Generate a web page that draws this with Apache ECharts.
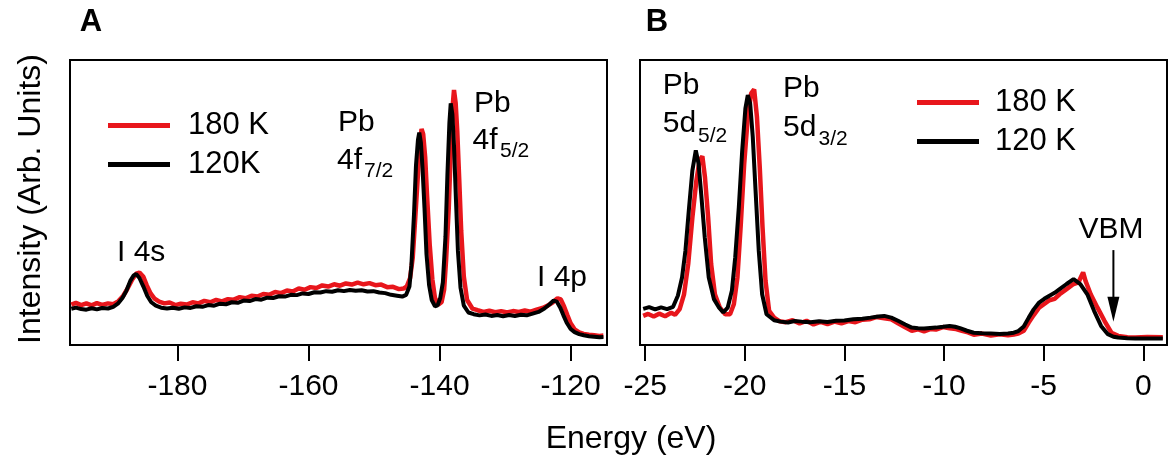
<!DOCTYPE html>
<html><head><meta charset="utf-8">
<script src="https://cdn.jsdelivr.net/npm/echarts@6/dist/echarts.min.js"></script>
<style>html,body{margin:0;padding:0;background:#fff}#c{width:1169px;height:461px}</style>
</head><body><div id="c"></div>
<script>
// ---- data ----
const ticksA = [-180, -160, -140, -120];
const ticksB = [-25, -20, -15, -10, -5, 0];
const rangeA = [-196.4, -114.45];
const rangeB = [-25.26, 1.19];
const legendA = ['180 K', '120K'];
const legendB = ['180 K', '120 K'];
const vbmEnergy = -1.5;
const vbmArrow = [33.3, 8.2];

const a180 = [[-196.2,14.2],[-195.5,14.8],[-194.7,14.0],[-193.9,14.6],[-193.1,13.9],[-192.3,14.7],[-191.5,14.1],[-190.6,14.6],[-189.8,14.3],[-189.0,15.4],[-188.3,17.2],[-187.6,19.9],[-186.9,23.0],[-186.3,25.0],[-185.8,25.4],[-185.2,23.9],[-184.7,21.0],[-184.1,18.1],[-183.5,16.3],[-182.8,15.2],[-182.0,14.6],[-181.2,14.9],[-180.3,14.0],[-179.5,14.5],[-178.6,14.2],[-177.7,15.0],[-176.8,14.6],[-175.9,15.5],[-175.0,15.0],[-174.1,15.8],[-173.2,15.3],[-172.3,16.1],[-171.4,15.9],[-170.5,16.8],[-169.6,16.4],[-168.7,17.3],[-167.8,17.0],[-166.9,17.9],[-166.0,17.6],[-165.1,18.6],[-164.2,18.2],[-163.3,19.1],[-162.4,18.8],[-161.5,19.8],[-160.6,19.4],[-159.7,20.3],[-158.8,20.0],[-157.9,20.9],[-157.0,20.5],[-156.1,21.3],[-155.2,20.8],[-154.3,21.6],[-153.4,21.2],[-152.5,21.9],[-151.6,21.3],[-150.7,21.7],[-149.8,21.0],[-148.9,21.2],[-148.0,20.3],[-147.1,20.4],[-146.2,19.6],[-145.5,19.8],[-145.0,20.6],[-144.5,23.5],[-144.1,30.5],[-143.7,45.0],[-143.3,60.0],[-143.0,70.5],[-142.75,75.8],[-142.5,74.0],[-142.2,66.0],[-141.9,52.0],[-141.5,35.0],[-141.1,23.0],[-140.7,16.5],[-140.2,14.2],[-139.7,15.0],[-139.3,19.5],[-139.0,30.0],[-138.6,48.0],[-138.3,68.0],[-138.0,84.0],[-137.8,89.5],[-137.55,85.0],[-137.3,75.0],[-137.0,58.0],[-136.7,40.0],[-136.3,24.0],[-135.8,15.8],[-135.0,12.8],[-134.2,12.2],[-133.3,11.6],[-132.4,12.0],[-131.5,11.5],[-130.6,11.9],[-129.7,11.4],[-128.8,11.9],[-127.9,11.6],[-127.0,12.1],[-126.1,11.7],[-125.2,12.4],[-124.3,13.0],[-123.5,13.8],[-122.7,15.0],[-122.0,16.4],[-121.5,16.0],[-121.0,13.5],[-120.5,10.5],[-120.0,7.6],[-119.4,5.5],[-118.7,4.4],[-118.0,3.9],[-117.2,3.6],[-116.4,3.4],[-115.6,3.2],[-115.0,3.3]];

const a120 = [[-196.2,12.7],[-195.5,13.1],[-194.7,12.6],[-193.9,12.4],[-193.1,12.9],[-192.3,12.5],[-191.5,13.0],[-190.6,12.8],[-189.8,13.4],[-189.1,14.5],[-188.4,16.5],[-187.8,19.0],[-187.2,22.5],[-186.7,24.4],[-186.3,24.9],[-185.8,23.5],[-185.2,20.5],[-184.6,17.2],[-184.0,15.0],[-183.3,13.8],[-182.5,13.1],[-181.6,12.8],[-180.7,13.1],[-179.8,12.7],[-178.9,13.2],[-178.0,13.0],[-177.1,13.6],[-176.2,13.4],[-175.3,14.0],[-174.4,13.8],[-173.5,14.5],[-172.6,14.3],[-171.7,15.0],[-170.8,14.8],[-169.9,15.6],[-169.0,15.4],[-168.1,16.1],[-167.2,15.9],[-166.3,16.6],[-165.4,16.5],[-164.5,17.1],[-163.6,17.0],[-162.7,17.6],[-161.8,17.5],[-160.9,18.1],[-160.0,17.9],[-159.1,18.5],[-158.2,18.4],[-157.3,18.9],[-156.4,18.7],[-155.5,19.2],[-154.6,18.9],[-153.7,19.3],[-152.8,19.0],[-151.9,19.2],[-151.0,18.8],[-150.1,18.9],[-149.2,18.4],[-148.3,18.2],[-147.4,17.6],[-146.5,17.3],[-145.7,17.0],[-145.1,17.6],[-144.6,20.5],[-144.3,28.0],[-143.9,46.0],[-143.6,63.0],[-143.3,72.0],[-143.1,74.5],[-142.85,71.0],[-142.6,62.0],[-142.3,48.0],[-142.0,32.0],[-141.6,21.0],[-141.2,15.8],[-140.7,13.6],[-140.3,13.9],[-139.9,16.5],[-139.5,22.0],[-139.1,38.0],[-138.8,60.0],[-138.5,78.0],[-138.3,84.8],[-138.05,81.0],[-137.8,70.0],[-137.5,51.0],[-137.2,33.0],[-136.8,20.0],[-136.3,13.8],[-135.6,11.4],[-134.8,10.8],[-133.9,10.4],[-133.0,10.7],[-132.1,10.2],[-131.2,10.5],[-130.3,10.1],[-129.4,10.5],[-128.5,10.2],[-127.6,10.6],[-126.7,10.4],[-125.8,11.0],[-124.9,11.6],[-124.0,12.8],[-123.2,14.3],[-122.6,15.6],[-122.1,15.2],[-121.6,13.2],[-121.1,10.4],[-120.6,7.8],[-120.0,5.6],[-119.4,4.5],[-118.7,3.8],[-118.0,3.4],[-117.2,3.1],[-116.4,2.9],[-115.6,2.7],[-115.0,2.8]];

const b180 = [[-25.1,10.2],[-24.85,10.9],[-24.57,10.0],[-24.3,11.0],[-24.0,10.1],[-23.7,11.3],[-23.5,10.6],[-23.27,12.6],[-23.05,17.8],[-22.84,28.4],[-22.63,44.8],[-22.43,57.7],[-22.27,64.8],[-22.13,66.2],[-22.0,58.9],[-21.84,44.8],[-21.69,28.4],[-21.5,17.8],[-21.25,13.1],[-20.98,10.8],[-20.74,10.8],[-20.55,14.3],[-20.37,23.7],[-20.2,42.5],[-20.03,63.6],[-19.85,80.0],[-19.68,88.3],[-19.53,89.7],[-19.39,80.0],[-19.25,62.4],[-19.11,41.3],[-18.96,22.5],[-18.78,12.0],[-18.53,9.6],[-18.25,8.3],[-17.95,8.0],[-17.6,8.7],[-17.25,7.6],[-16.9,8.5],[-16.55,7.2],[-16.2,8.1],[-15.85,7.3],[-15.5,8.2],[-15.15,7.6],[-14.8,8.4],[-14.45,8.0],[-14.1,8.9],[-13.75,9.0],[-13.4,9.8],[-13.0,9.4],[-12.65,9.0],[-12.31,7.6],[-11.95,6.2],[-11.62,5.0],[-11.3,5.5],[-11.0,4.8],[-10.7,5.6],[-10.41,5.4],[-10.05,6.3],[-9.72,5.9],[-9.4,5.6],[-9.1,5.0],[-8.8,4.4],[-8.51,3.6],[-8.1,4.0],[-7.65,3.3],[-7.2,3.8],[-6.79,3.4],[-6.5,3.7],[-6.27,4.0],[-6.0,5.0],[-5.75,7.9],[-5.5,10.5],[-5.23,13.1],[-4.97,14.4],[-4.71,15.7],[-4.45,16.2],[-4.2,17.8],[-3.85,19.6],[-3.5,21.4],[-3.25,22.0],[-3.02,25.5],[-2.9,22.5],[-2.64,17.8],[-2.3,13.1],[-1.95,8.5],[-1.6,4.3],[-1.26,3.2],[-0.8,2.7],[-0.4,2.6],[0.2,2.8],[0.98,2.7]];

const b120 = [[-25.1,12.7],[-24.8,13.3],[-24.5,12.5],[-24.2,13.2],[-23.9,12.6],[-23.6,13.4],[-23.36,17.3],[-23.15,23.7],[-22.98,33.1],[-22.81,47.2],[-22.63,61.3],[-22.46,68.3],[-22.32,63.6],[-22.19,53.1],[-22.01,37.8],[-21.81,23.7],[-21.55,16.1],[-21.29,13.1],[-21.08,11.4],[-20.86,13.1],[-20.65,19.0],[-20.48,30.8],[-20.30,48.4],[-20.13,68.3],[-19.97,83.0],[-19.85,87.7],[-19.73,84.7],[-19.60,73.0],[-19.46,54.2],[-19.30,33.1],[-19.13,17.8],[-18.91,10.8],[-18.53,8.7],[-18.2,8.2],[-17.83,7.9],[-17.5,8.4],[-17.14,8.2],[-16.7,8.0],[-16.28,8.3],[-15.85,8.1],[-15.42,8.5],[-15.0,8.6],[-14.55,9.0],[-14.1,9.2],[-13.69,9.6],[-13.3,10.0],[-13.0,10.2],[-12.65,9.6],[-12.31,8.5],[-11.95,7.2],[-11.62,6.1],[-11.3,5.9],[-11.0,5.8],[-10.7,6.0],[-10.41,6.1],[-10.05,6.4],[-9.72,6.7],[-9.45,6.4],[-9.20,5.9],[-8.85,5.0],[-8.51,4.3],[-8.1,4.1],[-7.65,4.0],[-7.2,3.9],[-6.79,4.0],[-6.5,4.3],[-6.27,4.9],[-6.0,6.5],[-5.75,9.6],[-5.5,12.5],[-5.23,14.9],[-4.97,16.2],[-4.71,17.3],[-4.45,18.3],[-4.20,19.6],[-3.85,21.4],[-3.50,23.1],[-3.16,21.4],[-2.81,17.8],[-2.47,12.0],[-2.12,6.7],[-1.78,3.8],[-1.5,2.9],[-1.26,2.6],[-0.8,2.4],[-0.40,2.3],[0.2,2.3],[0.98,2.3]];

// ---- chart ----
const F = '"Liberation Sans", Arial, sans-serif';
const RED = '#e8161c', BLACK = '#000000';
const chart = echarts.init(document.getElementById('c'), null, {renderer: 'canvas'});

function xAxisCfg(gi, range, ticks) {
  return {
    type: 'value', gridIndex: gi, min: range[0], max: range[1],
    axisLine: {show: true, lineStyle: {color: '#000', width: 2}},
    axisTick: {show: true, inside: false, length: 16, lineStyle: {color: '#000', width: 2}, customValues: ticks},
    axisLabel: {show: true, customValues: ticks, margin: 27, fontSize: 30, fontFamily: F, color: '#000'},
    splitLine: {show: false}
  };
}
function yAxisCfg(gi) {
  return {type: 'value', gridIndex: gi, min: 0, max: 100, show: false};
}
function txt(id, s, x, y, size, extra) {
  return Object.assign({type: 'text', id: id, x: x, y: y, silent: true,
    style: Object.assign({text: s, fontSize: size, fontFamily: F, fill: '#000', textAlign: 'left', textVerticalAlign: 'middle'}, extra || {})});
}
const legendText = (pad) => ({fontSize: 31, fontFamily: F, color: '#000', padding: [0, 0, 0, pad], lineHeight: 30});

const graphics = [
  txt('lA', 'A', 91, 22, 31, {textAlign: 'center', fontWeight: 'bold'}),
  txt('lB', 'B', 657, 22, 31, {textAlign: 'center', fontWeight: 'bold'}),
  txt('xt', 'Energy (eV)', 631, 439, 32, {textAlign: 'center'}),
  Object.assign(txt('yt', 'Intensity (Arb. Units)', 31, 199, 32, {textAlign: 'center'}), {rotation: Math.PI / 2}),
  txt('a1', 'Pb', 338, 122.5, 30),
  txt('a2', '4f', 337, 161, 30),
  txt('a2s', '7/2', 364, 171, 21),
  txt('a3', 'Pb', 474, 104.2, 30),
  txt('a4', '4f', 472.5, 141, 30),
  txt('a4s', '5/2', 500, 151, 21),
  txt('a5', 'I 4s', 117, 252.5, 30),
  txt('a6', 'I 4p', 537, 277.5, 30),
  txt('b1', 'Pb', 662.7, 86, 30),
  txt('b2', '5d', 662.7, 124.2, 30),
  txt('b2s', '5/2', 698, 135.8, 21),
  txt('b3', 'Pb', 783, 89.2, 30),
  txt('b4', '5d', 783, 127.5, 30),
  txt('b4s', '3/2', 818.5, 139.2, 21),
  txt('b5', 'VBM', 1111, 229.3, 30, {textAlign: 'center'})
];

const option = {
  backgroundColor: '#fff',
  animation: false,
  grid: [
    {left: 70, top: 60, width: 537, height: 285, show: true, borderColor: '#000', borderWidth: 2, backgroundColor: 'transparent', containLabel: false},
    {left: 640, top: 60, width: 527, height: 285, show: true, borderColor: '#000', borderWidth: 2, backgroundColor: 'transparent', containLabel: false}
  ],
  xAxis: [xAxisCfg(0, rangeA, ticksA), xAxisCfg(1, rangeB, ticksB)],
  yAxis: [yAxisCfg(0), yAxisCfg(1)],
  legend: [
    {data: legendA, orient: 'vertical', left: 103, top: 105, itemWidth: 62, itemHeight: 5, itemGap: 8, icon: 'rect', selectedMode: false, textStyle: legendText(13)},
    {data: legendB, orient: 'vertical', left: 912, top: 82, itemWidth: 62, itemHeight: 5, itemGap: 8, icon: 'rect', selectedMode: false, textStyle: legendText(11)}
  ],
  series: [
    {name: legendA[0], type: 'line', xAxisIndex: 0, yAxisIndex: 0, data: a180, showSymbol: false, color: RED, lineStyle: {color: RED, width: 4.5}, z: 2},
    {name: legendA[1], type: 'line', xAxisIndex: 0, yAxisIndex: 0, data: a120, showSymbol: false, color: BLACK, lineStyle: {color: BLACK, width: 4}, z: 3},
    {name: legendB[0], type: 'line', xAxisIndex: 1, yAxisIndex: 1, data: b180, showSymbol: false, color: RED, lineStyle: {color: RED, width: 4.5}, z: 2},
    {name: legendB[1], type: 'line', xAxisIndex: 1, yAxisIndex: 1, data: b120, showSymbol: false, color: BLACK, lineStyle: {color: BLACK, width: 4}, z: 3}
  ],
  graphic: {elements: graphics}
};
chart.setOption(option);

// VBM arrow placed through the axis scales
const p1 = chart.convertToPixel({gridIndex: 1}, [vbmEnergy, vbmArrow[0]]);
const p2 = chart.convertToPixel({gridIndex: 1}, [vbmEnergy, vbmArrow[1]]);
const headL = 25, headW = 6;
chart.setOption({graphic: {elements: graphics.concat([
  {type: 'line', id: 'arL', silent: true, shape: {x1: p1[0], y1: p1[1], x2: p2[0], y2: p2[1] - headL + 2}, style: {stroke: '#000', lineWidth: 2}},
  {type: 'polygon', id: 'arH', silent: true, shape: {points: [[p2[0] - headW, p2[1] - headL], [p2[0] + headW, p2[1] - headL], [p2[0], p2[1]]]}, style: {fill: '#000'}}
])}});
</script>
</body></html>
